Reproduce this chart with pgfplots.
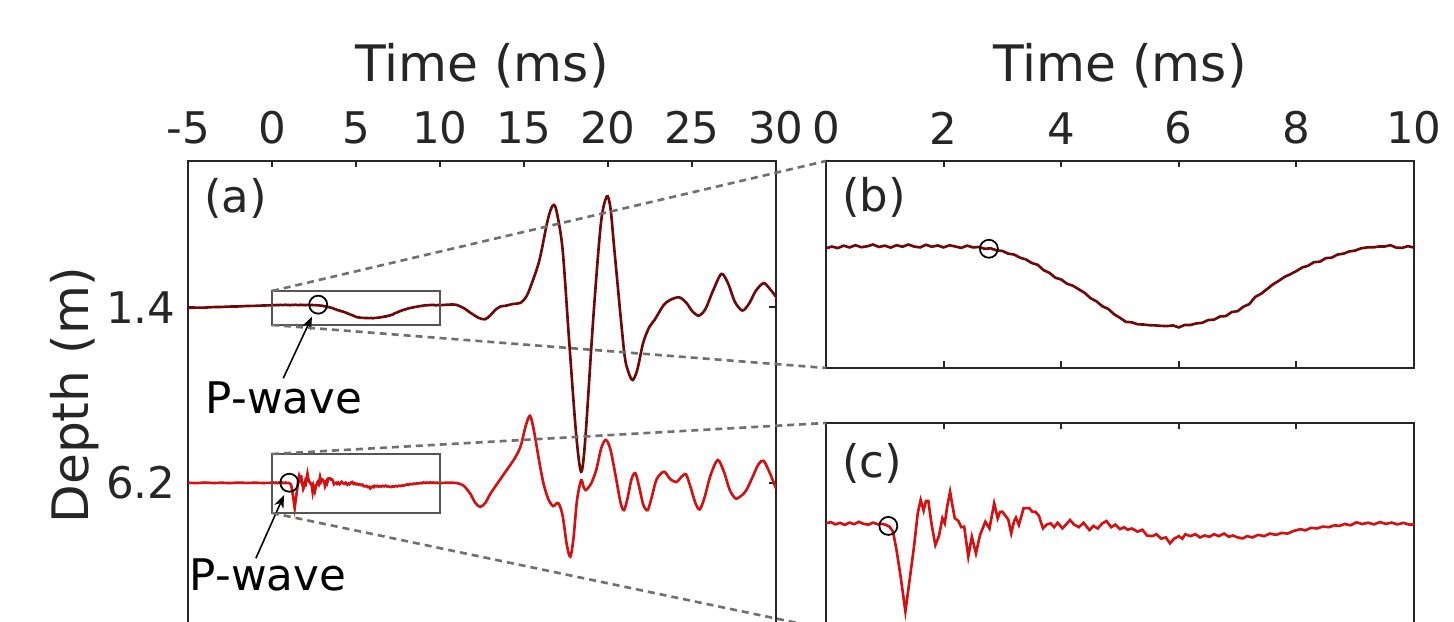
\documentclass[border=0pt]{standalone}
\usepackage{pgfplots}
\pgfplotsset{compat=1.18}
\usepackage{pgfplotstable}
\usepackage{fontspec}
\setmainfont{DejaVu Sans}
\usetikzlibrary{arrows.meta}
\definecolor{txt}{gray}{0.15}
\definecolor{trA}{RGB}{112,8,8}
\definecolor{trB}{RGB}{212,16,16}
\definecolor{dashc}{RGB}{112,112,112}
\definecolor{boxc}{RGB}{85,85,85}

% trace at 1.4 m (d = offset in depth units, positive downward)
\pgfplotstableread{
t d
-5.0 0.020
-4.5 0.012
-4.0 0.010
-3.5 -0.004
-3.0 -0.008
-2.5 -0.018
-2.0 -0.022
-1.5 -0.034
-1.0 -0.038
-0.5 -0.048
0.0 -0.052
}\preA
\pgfplotstableread{
t d
0.0 -0.052
0.1 -0.060
0.2 -0.053
0.3 -0.064
0.4 -0.056
0.5 -0.066
0.6 -0.057
0.7 -0.061
0.8 -0.069
0.9 -0.058
1.0 -0.064
1.1 -0.055
1.2 -0.066
1.3 -0.059
1.4 -0.069
1.5 -0.060
1.6 -0.056
1.7 -0.068
1.8 -0.059
1.9 -0.065
2.0 -0.056
2.1 -0.066
2.2 -0.060
2.3 -0.054
2.4 -0.064
2.5 -0.056
2.6 -0.058
2.7 -0.050
2.8 -0.052
2.9 -0.043
3.0 -0.040
3.1 -0.028
3.2 -0.024
3.3 -0.010
3.4 -0.002
3.5 0.014
3.6 0.022
3.7 0.046
3.8 0.058
3.9 0.080
4.0 0.088
4.1 0.107
4.2 0.116
4.3 0.132
4.4 0.148
4.5 0.172
4.6 0.186
4.7 0.208
4.8 0.220
4.9 0.244
5.0 0.260
5.1 0.278
5.2 0.280
5.3 0.289
5.4 0.290
5.5 0.293
5.6 0.294
5.7 0.296
5.8 0.297
5.9 0.294
6.0 0.303
6.1 0.292
6.2 0.292
6.3 0.285
6.4 0.282
6.5 0.270
6.6 0.268
6.7 0.254
6.8 0.252
6.9 0.234
7.0 0.230
7.1 0.210
7.2 0.198
7.3 0.166
7.4 0.152
7.5 0.131
7.6 0.110
7.7 0.094
7.8 0.076
7.9 0.064
8.0 0.050
8.1 0.034
8.2 0.026
8.3 0.010
8.4 0.008
8.5 -0.008
8.6 -0.010
8.7 -0.024
8.8 -0.028
8.9 -0.038
9.0 -0.042
9.1 -0.052
9.2 -0.056
9.3 -0.056
9.4 -0.060
9.5 -0.060
9.6 -0.066
9.7 -0.055
9.8 -0.054
9.9 -0.062
10.0 -0.055
}\fineA
\pgfplotstableread{
t d
10.0 -0.055
10.5 -0.070
10.93 -0.070
11.4 0.020
11.84 0.160
12.3 0.290
12.68 0.330
13.0 0.220
13.3 0.070
13.6 -0.020
13.9 -0.040
14.35 -0.090
14.8 -0.120
15.15 -0.300
15.47 -0.660
15.92 -1.290
16.37 -2.300
16.6 -2.680
16.78 -2.800
16.95 -2.600
17.3 -1.570
17.7 1.000
18.1 3.450
18.4 4.500
18.65 3.600
19.13 0.260
19.58 -2.300
19.93 -3.030
20.15 -2.700
20.38 -1.570
20.95 1.170
21.2 1.750
21.47 1.990
21.75 1.700
22.09 0.980
22.45 0.550
22.77 0.350
23.3 -0.050
23.7 -0.200
24.25 -0.270
24.7 -0.100
25.0 0.100
25.4 0.230
25.8 0.050
26.25 -0.450
26.75 -0.910
27.15 -0.650
27.55 -0.150
28.0 0.090
28.4 -0.100
28.8 -0.450
29.26 -0.660
29.6 -0.520
30.0 -0.290
}\postA

% trace at 6.2 m
\pgfplotstableread{
t d
-5.0 0.000
-4.5 0.010
-4.0 -0.005
-3.5 0.008
-3.0 0.000
-2.5 0.010
-2.0 -0.004
-1.5 0.006
-1.0 0.000
-0.5 0.008
0.0 0.000
}\preB
\pgfplotstableread{
t d
0.00 0.000
0.08 -0.010
0.16 0.008
0.24 -0.004
0.32 0.012
0.40 -0.006
0.48 0.006
0.56 -0.012
0.64 0.004
0.72 0.010
0.80 -0.006
0.88 0.008
0.96 0.004
1.02 0.012
1.08 0.026
1.14 0.065
1.20 0.21
1.27 0.42
1.35 0.69
1.42 0.45
1.50 0.17
1.56 -0.08
1.61 -0.183
1.66 -0.10
1.70 -0.175
1.74 -0.175
1.80 0.02
1.86 0.17
1.92 0.10
1.98 -0.04
2.02 0.0
2.06 -0.13
2.11 -0.248
2.15 -0.14
2.19 -0.04
2.25 -0.02
2.30 0.03
2.35 0.026
2.42 0.26
2.48 0.105
2.55 0.235
2.62 0.09
2.71 -0.013
2.78 0.04
2.86 -0.157
2.92 -0.04
2.96 -0.09
3.00 -0.091
3.05 -0.06
3.10 -0.03
3.15 0.078
3.20 -0.02
3.23 -0.045
3.28 0.013
3.36 -0.118
3.41 -0.12
3.46 -0.118
3.51 -0.09
3.56 -0.091
3.62 -0.06
3.69 0.039
3.75 0.01
3.82 0.0
3.88 0.03
3.94 -0.005
4.02 0.039
4.08 0.01
4.15 -0.026
4.22 0.01
4.30 0.03
4.38 -0.005
4.44 0.03
4.48 0.052
4.55 0.02
4.62 0.04
4.70 0.00
4.77 -0.018
4.85 0.03
4.92 0.01
5.00 0.045
5.07 0.03
5.13 0.05
5.20 0.04
5.30 0.065
5.38 0.05
5.46 0.095
5.55 0.10
5.62 0.085
5.70 0.12
5.78 0.11
5.85 0.157
5.92 0.12
6.00 0.10
6.06 0.12
6.11 0.086
6.20 0.10
6.28 0.085
6.36 0.11
6.44 0.095
6.52 0.105
6.60 0.085
6.68 0.10
6.77 0.08
6.85 0.105
6.92 0.095
7.00 0.11
7.09 0.118
7.16 0.10
7.25 0.11
7.35 0.09
7.45 0.10
7.55 0.08
7.65 0.09
7.75 0.075
7.85 0.08
7.95 0.06
8.07 0.045
8.15 0.055
8.25 0.035
8.35 0.04
8.45 0.025
8.55 0.03
8.65 0.015
8.73 0.02
8.82 0.005
8.92 0.015
9.02 -0.008
9.12 0.005
9.22 -0.005
9.32 0.008
9.42 -0.01
9.52 0.004
9.62 -0.006
9.72 0.008
9.82 -0.004
9.92 0.010
10.00 0.008
}\fineB
\pgfplotstableread{
t d
10.0 0.008
10.5 0.000
11.0 0.010
11.4 0.080
11.8 0.300
12.1 0.550
12.4 0.660
12.7 0.550
13.0 0.300
13.4 0.030
13.9 -0.300
14.45 -0.670
14.8 -1.000
15.1 -1.550
15.36 -1.830
15.6 -1.400
15.9 -0.600
16.16 0.020
16.45 0.450
16.73 0.640
16.9 0.580
17.07 0.570
17.3 0.900
17.55 1.700
17.76 2.020
17.95 1.500
18.15 0.500
18.4 -0.070
18.55 0.120
18.67 0.200
18.8 0.150
19.0 0.020
19.3 -0.350
19.6 -0.950
19.88 -1.170
20.15 -0.900
20.45 -0.200
20.75 0.550
20.95 0.750
21.15 0.450
21.4 -0.100
21.63 -0.260
21.85 0.100
22.1 0.600
22.36 0.750
22.6 0.400
22.9 -0.100
23.34 -0.300
23.7 -0.100
24.07 -0.020
24.35 -0.150
24.64 -0.230
24.9 0.100
25.2 0.550
25.46 0.730
25.75 0.400
26.1 -0.200
26.53 -0.620
26.9 -0.300
27.25 0.200
27.6 0.430
27.95 0.350
28.24 0.200
28.6 -0.150
28.95 -0.500
29.26 -0.600
29.6 -0.300
30.0 0.150
}\postB

\pgfplotsset{
  panel/.style={
    scale only axis,
    anchor=south west,
    axis line style={txt, line width=0.6pt},
    every tick/.style={txt, line width=0.6pt},
    tick align=inside,
    major tick length=0.65mm,
    xticklabel pos=right,
    ticklabel style={font=\fontsize{12.4}{14}\selectfont, text=txt},
    xticklabel style={yshift=0.45mm},
    /pgf/number format/assume math mode=true,
    y dir=reverse,
  },
  trace/.style={line width=0.75pt},
}

\begin{document}
\begin{tikzpicture}[x=1mm,y=1mm]
% ---------- (a) ----------
\begin{axis}[panel, name=a, at={(18.8mm,-0.7mm)},
  width=58.8mm, height=46.8mm,
  xmin=-5, xmax=30, ymin=-2.6, ymax=10.2,
  xtick={-5,0,5,10,15,20,25,30},
  ytick={1.4,6.2}, yticklabels={1.4,6.2}]
  \addplot[trA, trace] table[x=t, y expr=\thisrow{d}+1.4] {\preA};
  \addplot[trA, trace] table[x=t, y expr=\thisrow{d}+1.4] {\fineA};
  \addplot[trA, trace, smooth] table[x=t, y expr=\thisrow{d}+1.4] {\postA};
  \addplot[trB, trace] table[x=t, y expr=\thisrow{d}+6.2] {\preB};
  \addplot[trB, trace] table[x=t, y expr=\thisrow{d}+6.2] {\fineB};
  \addplot[trB, trace, smooth] table[x=t, y expr=\thisrow{d}+6.2] {\postB};
  \addplot[only marks, mark=o, mark size=2.56pt, black, mark options={line width=0.5pt}]
    coordinates {(2.75,1.33) (1.03,6.2)};
  \draw[boxc, line width=0.6pt] (axis cs:0,0.956) rectangle (axis cs:10,1.885);
  \draw[boxc, line width=0.6pt] (axis cs:0,5.414) rectangle (axis cs:10,7.027);
  \coordinate (A1) at (axis cs:0,0.956);
  \coordinate (A2) at (axis cs:0,1.885);
  \coordinate (A3) at (axis cs:0,5.414);
  \coordinate (A4) at (axis cs:0,7.027);
  \draw[black, line width=0.45pt, -{Stealth[length=1.3mm,width=1.0mm]}]
    (axis cs:0.67,3.343) -- (axis cs:2.38,1.658);
  \draw[black, line width=0.45pt, -{Stealth[length=1.3mm,width=1.0mm]}]
    (axis cs:-0.96,8.266) -- (axis cs:0.72,6.535);
  \node[font=\fontsize{12.4}{14}\selectfont, black, inner sep=0pt] at (axis cs:0.71,3.882) {P-wave};
  \node[font=\fontsize{12.4}{14}\selectfont, black, inner sep=0pt] at (axis cs:-0.24,8.723) {P-wave};
\end{axis}
% ---------- (b) ----------
\begin{axis}[panel, name=b, at={(82.6mm,25.4mm)},
  width=58.8mm, height=20.7mm,
  xmin=0, xmax=10, ymin=-0.444, ymax=0.485,
  xtick={0,2,4,6,8,10}, ytick=\empty]
  \addplot[trA, trace] table[x=t, y=d] {\fineA};
  \addplot[only marks, mark=o, mark size=2.56pt, black, mark options={line width=0.5pt}]
    coordinates {(2.77,-0.05)};
\end{axis}
% ---------- (c) ----------
\begin{axis}[panel, name=c, at={(82.6mm,-0.7mm)},
  width=58.8mm, height=20.6mm,
  xmin=0, xmax=10, ymin=-0.786, ymax=0.827,
  xtick={0,2,4,6,8,10}, xticklabels={}, ytick=\empty]
  \addplot[trB, trace] table[x=t, y=d] {\fineB};
  \addplot[only marks, mark=o, mark size=2.56pt, black, mark options={line width=0.5pt}]
    coordinates {(1.06,0.02)};
\end{axis}
% ---------- zoom lines ----------
\begin{scope}[dashc, line width=0.75pt, dash pattern=on 0.7mm off 0.5mm]
  \draw (A1) -- (b.north west);
  \draw (A2) -- (b.south west);
  \draw (A3) -- (c.north west);
  \draw (A4) -- (c.south west);
\end{scope}
% ---------- labels ----------
\node[anchor=base, yshift=7.93mm, font=\fontsize{14.3}{16}\selectfont, text=txt] at (a.north) {Time (ms)};
\node[anchor=base, yshift=7.93mm, font=\fontsize{14.3}{16}\selectfont, text=txt] at (b.north) {Time (ms)};
\path (a.west) ++(-9.97mm,0) node[rotate=90, anchor=base, font=\fontsize{14.3}{16}\selectfont, text=txt] {Depth (m)};
\node[anchor=base west, inner sep=0pt, font=\fontsize{12.8}{14}\selectfont, text=txt] at ([xshift=1.55mm,yshift=-5.2mm]a.north west) {(a)};
\node[anchor=base west, inner sep=0pt, font=\fontsize{12.8}{14}\selectfont, text=txt] at ([xshift=1.55mm,yshift=-5.07mm]b.north west) {(b)};
\node[anchor=base west, inner sep=0pt, font=\fontsize{12.8}{14}\selectfont, text=txt] at ([xshift=1.55mm,yshift=-5.5mm]c.north west) {(c)};
\pgfresetboundingbox
\useasboundingbox (0,0) rectangle (145.4mm,62.2mm);
\end{tikzpicture}
\end{document}
